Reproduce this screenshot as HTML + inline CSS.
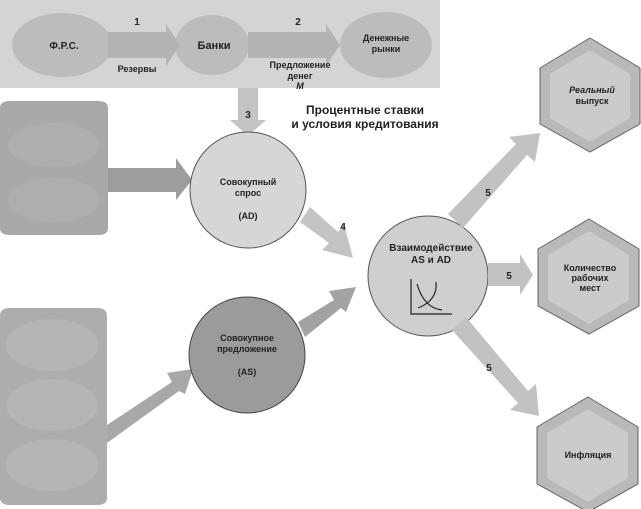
<!DOCTYPE html>
<html><head><meta charset="utf-8"><style>
html,body{margin:0;padding:0;background:#fff;}
svg{display:block;}
text{font-family:"Liberation Sans",sans-serif;font-weight:bold;fill:#222;}
</style></head><body>
<svg width="641" height="509" viewBox="0 0 641 509" xmlns="http://www.w3.org/2000/svg">
<rect x="0" y="0" width="440" height="88" fill="#d4d4d4"/>
<ellipse cx="62" cy="45" rx="50" ry="32" fill="#bcbcbc"/>
<ellipse cx="212" cy="45" rx="37" ry="30" fill="#bcbcbc"/>
<ellipse cx="386" cy="45" rx="46" ry="33" fill="#bcbcbc"/>
<polygon points="108,32 166,32 166,24 180,45 166,66 166,58 108,58" fill="#b4b4b4"/>
<polygon points="248,32 326,32 326,24 340,45 326,66 326,58 248,58" fill="#b4b4b4"/>
<text x="137" y="25" font-size="10" text-anchor="middle">1</text>
<text x="298" y="25" font-size="10" text-anchor="middle">2</text>
<text x="64" y="49" font-size="10" text-anchor="middle">Ф.Р.С.</text>
<text x="214" y="49" font-size="11" text-anchor="middle">Банки</text>
<text x="386" y="41" font-size="9" text-anchor="middle">Денежные</text>
<text x="386" y="52" font-size="9" text-anchor="middle">рынки</text>
<text x="137" y="72" font-size="9" text-anchor="middle">Резервы</text>
<text x="300" y="68" font-size="9" text-anchor="middle">Предложение</text>
<text x="300" y="79" font-size="9" text-anchor="middle">денег</text>
<text x="300" y="89" font-size="9" text-anchor="middle" font-style="italic">M</text>
<polygon points="238,88 258,88 258,120 266,120 248,136 230,120 238,120" fill="#c4c4c4"/>
<text x="248" y="118" font-size="10" text-anchor="middle">3</text>
<text x="365" y="114" font-size="12" text-anchor="middle">Процентные ставки</text>
<text x="365" y="128" font-size="12" text-anchor="middle">и условия кредитования</text>
<!-- cylinders -->
<path d="M0,108 Q0,101 10,101 L98,101 Q108,101 108,108 L108,228 Q108,235 98,235 L10,235 Q0,235 0,228 Z" fill="#a9a9a9"/>
<ellipse cx="54" cy="145" rx="46" ry="22" fill="#b3b3b3" opacity="0.6"/>
<ellipse cx="54" cy="200" rx="46" ry="22" fill="#b3b3b3" opacity="0.6"/>
<path d="M0,316 Q0,308 10,308 L97,308 Q107,308 107,316 L107,498 Q107,505 97,505 L10,505 Q0,505 0,498 Z" fill="#adadad"/>
<ellipse cx="52" cy="345" rx="46" ry="26" fill="#b8b8b8" opacity="0.7"/>
<ellipse cx="52" cy="405" rx="46" ry="26" fill="#b8b8b8" opacity="0.7"/>
<ellipse cx="52" cy="465" rx="46" ry="26" fill="#b8b8b8" opacity="0.7"/>
<polygon points="108,168 176,168 176,158 192,180 176,200 176,192 108,192" fill="#9d9d9d"/>
<polygon points="107,425 172,382 167,373 193,369 185,394 179,391 107,443" fill="#a8a8a8"/>
<circle cx="248" cy="190" r="58" fill="#d6d6d6" stroke="#555" stroke-width="1"/>
<text x="248" y="185" font-size="9" text-anchor="middle">Совокупный</text>
<text x="248" y="196" font-size="9" text-anchor="middle">спрос</text>
<text x="248" y="219" font-size="9" text-anchor="middle">(AD)</text>
<circle cx="247" cy="355" r="58" fill="#9b9b9b" stroke="#444" stroke-width="1"/>
<text x="247" y="341" font-size="9" text-anchor="middle">Совокупное</text>
<text x="247" y="352" font-size="9" text-anchor="middle">предложение</text>
<text x="247" y="375" font-size="9" text-anchor="middle">(AS)</text>
<polygon points="310,207 338,232 344,224 353,258 322,250 329,243 300,222" fill="#c4c4c4"/>
<text x="343" y="230" font-size="10" text-anchor="middle">4</text>
<polygon points="298,322 334,300 329,291 356,287 346,312 341,308 305,337" fill="#a3a3a3"/>
<circle cx="428" cy="276" r="60" fill="#cfcfcf" stroke="#555" stroke-width="1"/>
<text x="431" y="251" font-size="10" text-anchor="middle">Взаимодействие</text>
<text x="431" y="263" font-size="10" text-anchor="middle">AS и AD</text>
<path d="M411,279 L411,314 L452,314" stroke="#222" stroke-width="1.2" fill="none"/>
<path d="M417,284 Q424,308 442,310" stroke="#222" stroke-width="1.2" fill="none"/>
<path d="M418,308 Q438,300 436,282" stroke="#222" stroke-width="1.2" fill="none"/>
<polygon points="448,214 516,144 509,137 540,133 535,162 527,155 463,228" fill="#c2c2c2"/>
<polygon points="488,263 520,263 520,254 533,275 520,295 520,286 488,286" fill="#c2c2c2"/>
<polygon points="452,330 466,317 528,391 536,384 539,416 510,410 518,403" fill="#c2c2c2"/>
<text x="488" y="196" font-size="10" text-anchor="middle">5</text>
<text x="509" y="279" font-size="10" text-anchor="middle">5</text>
<text x="489" y="371" font-size="10" text-anchor="middle">5</text>
<polygon points="590,38 640,68 640,124 590,152 540,124 540,68" fill="#b9b9b9" stroke="#666" stroke-width="1"/>
<polygon points="590,50 630,74 630,118 590,142 550,118 550,74" fill="#cbcbcb"/>
<text x="592" y="93" font-size="9" text-anchor="middle" font-style="italic">Реальный</text>
<text x="592" y="104" font-size="9" text-anchor="middle">выпуск</text>
<polygon points="589,219 639,249 639,306 589,334 538,306 538,249" fill="#b9b9b9" stroke="#666" stroke-width="1"/>
<polygon points="589,231 629,255 629,300 589,324 548,300 548,255" fill="#cbcbcb"/>
<text x="590" y="271" font-size="9" text-anchor="middle">Количество</text>
<text x="590" y="281" font-size="9" text-anchor="middle">рабочих</text>
<text x="590" y="291" font-size="9" text-anchor="middle">мест</text>
<polygon points="588,397 638,427 638,484 588,512 537,484 537,427" fill="#b9b9b9" stroke="#666" stroke-width="1"/>
<polygon points="588,409 628,433 628,478 588,502 547,478 547,433" fill="#cbcbcb"/>
<text x="588" y="458" font-size="9" text-anchor="middle">Инфляция</text>
</svg>
</body></html>
